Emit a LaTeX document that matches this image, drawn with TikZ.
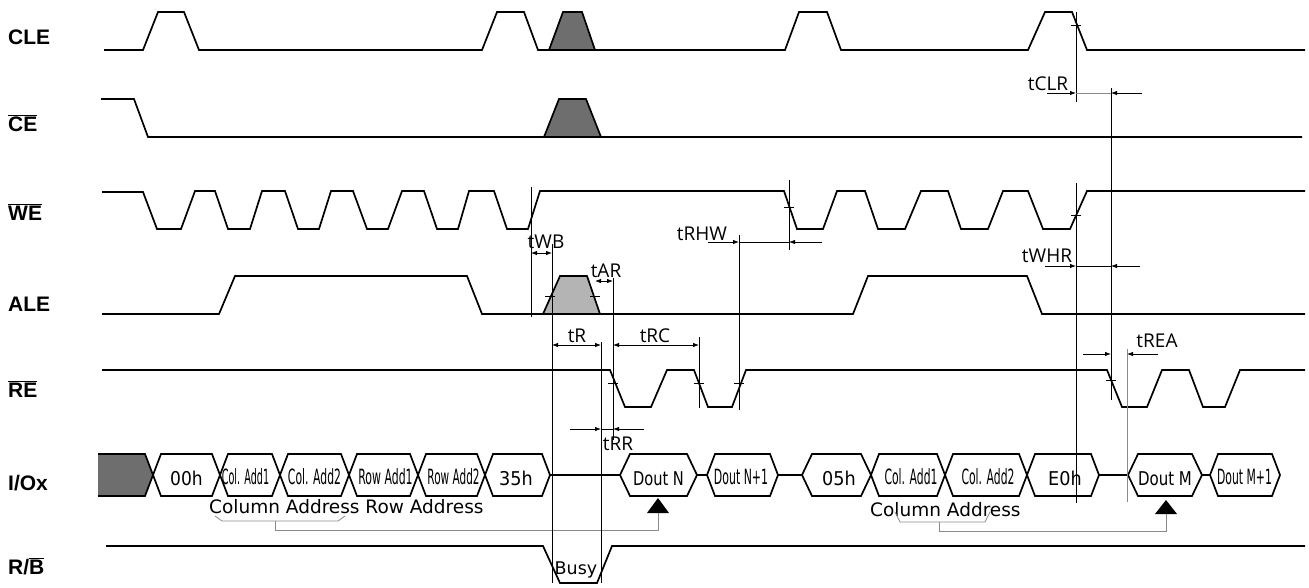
\documentclass[tikz,border=0pt]{standalone}
\usepackage{fontspec}
\setmainfont{Liberation Sans}
\newfontfamily\dvfont{DejaVu Sans}
\newfontfamily\osfont{Open Sans}
\usetikzlibrary{arrows.meta}
\definecolor{darkfill}{HTML}{6E6E6E}
\definecolor{lightfill}{HTML}{B4B4B4}
\definecolor{dimgray}{HTML}{8A8A8A}
\tikzset{
  wave/.style={line width=1.7pt},
  dimline/.style={line width=0.8pt},
  arr/.style={dimline, -{Latex[length=6pt,width=4.5pt]}},
  darr/.style={dimline, {Latex[length=6pt,width=4.5pt]}-{Latex[length=6pt,width=4.5pt]}},
  sig/.style={anchor=base west, inner sep=0pt, font=\fontsize{21}{25}\selectfont\bfseries},
  tlab/.style={anchor=base, inner sep=0pt, font=\osfont\fontsize{19}{22}\selectfont},
  bus/.style={anchor=base, inner sep=0pt, font=\dvfont\fontsize{19}{22}\selectfont},
  busn/.style={anchor=base, inner sep=0pt, font=\dvfont\fontsize{21}{24}\selectfont},
  note/.style={anchor=base west, inner sep=0pt, font=\dvfont\fontsize{18.5}{22}\selectfont},
  brk/.style={line width=0.8pt, draw=dimgray},
}
\newcommand{\hexbox}[3][8]{\draw[wave] (#2,475) -- ({#2+#1},454) -- ({#3-#1},454) -- (#3,475) -- ({#3-#1},496) -- ({#2+#1},496) -- cycle;}
\newcommand{\tick}[2]{\draw[dimline] ({#1-5},#2) -- ({#1+5},#2);}
\begin{document}
\begin{tikzpicture}[x=1pt,y=-1pt]
\useasboundingbox (0,0) rectangle (1309,587);

% signal names
\node[sig] (lCLE) at (8,44) {CLE};
\node[sig] (lCE) at (8,131) {$\overline{\mbox{CE}}$};
\node[sig] (lWE) at (8,220) {$\overline{\mbox{WE}}$};
\node[sig] (lALE) at (8,311) {ALE};
\node[sig] (lRE) at (8,397) {$\overline{\mbox{RE}}$};
\node[sig] (lIO) at (8,490) {I/Ox};
\node[sig] (lRB) at (8,574) {R/$\overline{\mbox{B}}$};

% CLE
\fill[darkfill] (549,50) -- (563,12) -- (582,12) -- (595,50) -- cycle;
\draw[wave] (549,50) -- (563,12) -- (582,12) -- (595,50);
\draw[wave] (104,50) -- (143,50) -- (158,12) -- (184,12) -- (199,50) -- (482,50) -- (497,12) -- (524,12) -- (538,50) -- (785,50) -- (799,12) -- (827,12) -- (841,50) -- (1028,50) -- (1045,12) -- (1072,12) -- (1087,50) -- (1305,50);

% CE
\fill[darkfill] (544,137) -- (559,99) -- (586,99) -- (601,137) -- cycle;
\draw[wave] (544,137) -- (559,99) -- (586,99) -- (601,137);
\draw[wave] (101,99) -- (134,99) -- (148,137) -- (1302,137);

% WE
\draw[wave] (102,192) -- (143,192) -- (157,229) -- (181,229) -- (195,191) -- (215,191) -- (228,229) -- (250,229) -- (262,191) -- (285,191) -- (298,229) -- (319,229) -- (331,191) -- (353,191) -- (367,229) -- (388,229) -- (402,191) -- (424,191) -- (437,229) -- (458,229) -- (469,191) -- (494,191) -- (507,229) -- (528,229) -- (540,191) -- (784,191) -- (797,229) -- (823,229) -- (837,191) -- (865,191) -- (878,229) -- (905,229) -- (921,191) -- (948,191) -- (961,229) -- (988,229) -- (1003,191) -- (1028,191) -- (1043,229) -- (1070,229) -- (1087,191) -- (1305,191);

% ALE
\fill[lightfill] (543,314) -- (560,276) -- (587,276) -- (600,314) -- cycle;
\draw[wave] (543,314) -- (560,276) -- (587,276) -- (600,314);
\draw[wave] (102,314) -- (219,314) -- (235,276) -- (467,276) -- (482,314) -- (853,314) -- (868,276) -- (1027,276) -- (1042,314) -- (1305,314);

% RE
\draw[wave] (102,370) -- (610,370) -- (625,407) -- (651,407) -- (667,370) -- (694,370) -- (708,407) -- (732,407) -- (746,370) -- (1107,370) -- (1122,407) -- (1147,407) -- (1162,370) -- (1189,370) -- (1203,407) -- (1225,407) -- (1240,370) -- (1305,370);

% I/Ox
\fill[darkfill] (98,454) -- (145,454) -- (153,475) -- (145,496) -- (98,496) -- cycle;
\draw[wave] (98,454) -- (145,454) -- (153,475) -- (145,496) -- (98,496);
\hexbox{153}{220}
\hexbox{220}{280}
\hexbox{280}{349}
\hexbox{349}{418}
\hexbox{418}{485}
\hexbox{485}{550}
\draw[wave] (550,475) -- (620,475);
\hexbox[10]{620}{697}
\draw[wave] (697,475) -- (707,475);
\hexbox[8]{707}{778}
\draw[wave] (778,475) -- (802,475);
\hexbox[10]{802}{871}
\hexbox{871}{945}
\hexbox{945}{1027}
\hexbox{1027}{1099}
\draw[wave] (1099,475) -- (1128,475);
\hexbox[10]{1128}{1202}
\draw[wave] (1202,475) -- (1210,475);
\hexbox[8]{1210}{1280}

\node[bus] (b00) at (186.5,485) {\scalebox{0.9}[1]{00h}};
\node[busn] (bca1) at (245.5,484) {\scalebox{0.46}[1]{Col. Add1}};
\node[busn] (bca2) at (314.5,484) {\scalebox{0.515}[1]{Col. Add2}};
\node[busn] (bra1) at (385.5,484) {\scalebox{0.52}[1]{Row Add1}};
\node[busn] (bra2) at (453.5,484) {\scalebox{0.50}[1]{Row Add2}};
\node[bus] (b35) at (516,485) {\scalebox{0.93}[1]{35h}};
\node[bus] (bdn) at (658.5,485) {\scalebox{0.77}[1]{Dout N}};
\node[busn] (bdn1) at (741,484) {\scalebox{0.52}[1]{Dout N+1}};
\node[bus] (b05) at (839,485) {\scalebox{0.93}[1]{05h}};
\node[busn] (bcb1) at (911,484) {\scalebox{0.515}[1]{Col. Add1}};
\node[busn] (bcb2) at (988,484) {\scalebox{0.515}[1]{Col. Add2}};
\node[bus] (be0) at (1065,485) {\scalebox{0.93}[1]{E0h}};
\node[bus] (bdm) at (1165,485) {\scalebox{0.79}[1]{Dout M}};
\node[busn] (bdm1) at (1244.5,484) {\scalebox{0.515}[1]{Dout M+1}};

% address notes and brackets
\node[note] (nca) at (209,513) {Column Address Row Address};
\node[note] (ncb) at (870,516) {Column Address};
\draw[brk] (215,516) -- (222,521) -- (338,521) -- (345,516);
\draw[brk] (275,521) -- (275,530) -- (658,530) -- (658,513);
\fill (647,513) -- (669,513) -- (658,498) -- cycle;
\draw[brk] (895,512) -- (900,522) -- (985,522) -- (990,512);
\draw[brk] (939,522) -- (939,531) -- (1166,531) -- (1166,514);
\fill (1155,514) -- (1177,514) -- (1166,500) -- cycle;

% R/B
\draw[wave] (106,546) -- (543,546) -- (560,583) -- (597,583) -- (612,546) -- (1305,546);
\node[anchor=base, inner sep=0pt, font=\dvfont\fontsize{17.5}{20}\selectfont] (busy) at (576,574) {Busy};

% vertical reference lines
\draw[dimline] (531,187) -- (531,317);
\draw[dimline] (552,244) -- (552,583);
\draw[dimline] (601,342) -- (601,583);
\draw[dimline] (613,278) -- (613,440);
\draw[dimline] (699,337) -- (699,408);
\draw[dimline] (739,235) -- (739,410);
\draw[dimline] (789,180) -- (789,250);
\draw[dimline] (1076,12) -- (1076,102);
\draw[dimline] (1076,183) -- (1076,503);
\draw[dimline] (1111,88) -- (1111,400);
\draw[dimline, draw=dimgray] (1127,349) -- (1127,502);

% ticks
\tick{1076}{25}
\tick{1076}{215}
\tick{789}{207}
\tick{550}{296}
\tick{595}{296}
\tick{613}{383}
\tick{699}{383}
\tick{739}{383}
\tick{1111}{380}

% timing arrows
\draw[darr] (531,253) -- (552,253);
\draw[darr] (595,281) -- (613,281);
\draw[darr] (552,345) -- (601,345);
\draw[darr] (613,345) -- (699,345);
\draw[arr] (708,242) -- (739,242);
\draw[dimline] (739,242) -- (789,242);
\draw[arr] (822,242) -- (789,242);
\draw[arr] (570,429) -- (601,429);
\draw[dimline] (601,429) -- (613,429);
\draw[arr] (644,429) -- (613,429);
\draw[arr] (1047,93) -- (1076,93);
\draw[dimline, draw=dimgray] (1076,93) -- (1111,93);
\draw[arr] (1142,93) -- (1111,93);
\draw[arr] (1045,266) -- (1076,266);
\draw[dimline] (1076,266) -- (1111,266);
\draw[arr] (1140,266) -- (1111,266);
\draw[arr] (1083,354) -- (1111,354);
\draw[arr] (1158,354) -- (1127,354);

% timing labels
\node[tlab] (tWB) at (546,248) {tWB};
\node[tlab] (tAR) at (606,277) {tAR};
\node[tlab] (tR) at (577,342) {tR};
\node[tlab] (tRC) at (655,342) {tRC};
\node[tlab] (tRHW) at (702,240) {tRHW};
\node[tlab] (tRR) at (618,450) {tRR};
\node[tlab] (tCLR) at (1048,90) {tCLR};
\node[tlab] (tWHR) at (1047,262) {tWHR};
\node[tlab] (tREA) at (1157,347) {tREA};
\end{tikzpicture}
\end{document}
